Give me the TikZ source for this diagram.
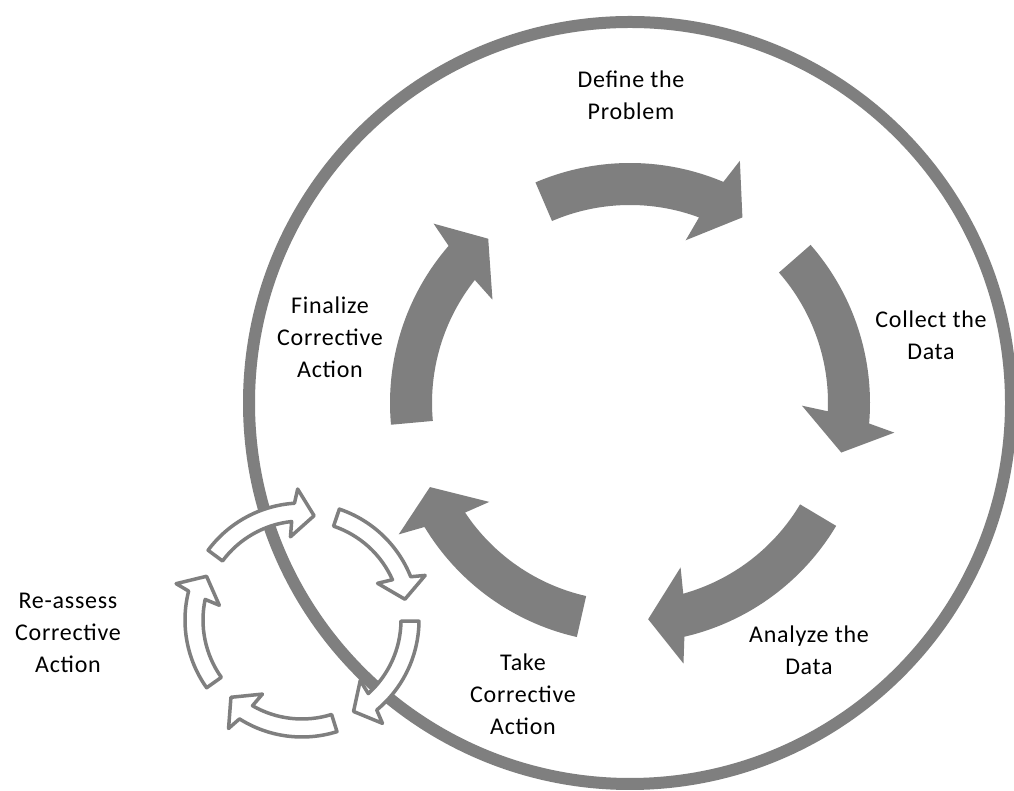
\documentclass[tikz,border=0pt]{standalone}
\usepackage{fontspec}
\setmainfont{Carlito}[LetterSpace=3]
\usetikzlibrary{calc}
\definecolor{cyclegray}{RGB}{127,127,127}
\begin{document}
\begin{tikzpicture}[x=1pt,y=1pt,
  bigarrow/.style={fill=cyclegray},
  smallarrow/.style={draw=cyclegray, fill=white, line width=3.5pt, line join=round},
  lbl/.style={align=center, font=\fontsize{24}{32}\selectfont, text=black, inner sep=0pt}]
\useasboundingbox (0,0) rectangle (1014,791);
\fill[white] (0,0) rectangle (1014,791);
\coordinate (c) at (630,388);
\coordinate (s) at (302,171);
% big circle
\draw[cyclegray, line width=12pt] (c) circle[radius=381];
% big cycle arrows
\foreach \k in {0,...,4}{
  \pgfmathsetmacro{\tp}{58.8-72*\k}
  \pgfmathsetmacro{\ta}{\tp+54.4}
  \pgfmathsetmacro{\tb}{\tp+8.3}
  \pgfmathsetmacro{\tc}{\tp+6.8}
  \pgfmathsetmacro{\td}{\tp+12.3}
  \pgfmathsetmacro{\te}{\tp+10.8}
  \fill[bigarrow] ($(c)+(\ta:240)$) arc[start angle=\ta, end angle=\tb, radius=240]
    -- ($(c)+(\tc:266)$) -- ($(c)+(\tp:217)$) -- ($(c)+(\td:172)$)
    -- ($(c)+(\te:198)$) arc[start angle=\te, end angle=\ta, radius=198] -- cycle;
}
% small cycle arrows
\foreach \k in {0,...,4}{
  \pgfmathsetmacro{\tp}{83.4-72*\k}
  \pgfmathsetmacro{\ta}{\tp+60}
  \pgfmathsetmacro{\tb}{\tp+10.3}
  \pgfmathsetmacro{\tc}{\tp+8.5}
  \pgfmathsetmacro{\td}{\tp+14.5}
  \pgfmathsetmacro{\te}{\tp+12.6}
  \draw[smallarrow] ($(s)+(\ta:117)$) arc[start angle=\ta, end angle=\tb, radius=117]
    -- ($(s)+(\tc:131)$) -- ($(s)+(\tp:105)$) -- ($(s)+(\td:84)$)
    -- ($(s)+(\te:99)$) arc[start angle=\te, end angle=\ta, radius=99] -- cycle;
}
% labels
\node[lbl] (define) at (631,696) {Define the\\Problem};
\node[lbl] (collect) at (931,456) {Collect the\\Data};
\node[lbl] (analyze) at (809,141) {Analyze the\\Data};
\node[lbl] (take) at (523,97) {Take\\Corrective\\Action};
\node[lbl] (finalize) at (330,454) {Finalize\\Corrective\\Action};
\node[lbl] (reassess) at (68,158) {Re-assess\\Corrective\\Action};
\end{tikzpicture}
\end{document}
